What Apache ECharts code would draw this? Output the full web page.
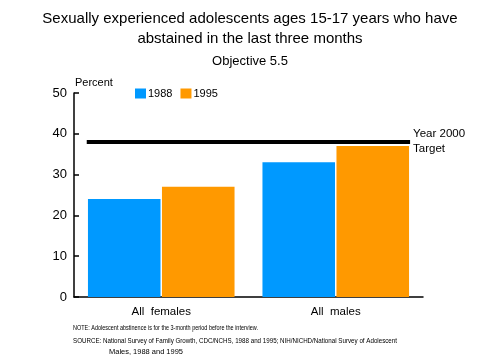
<!DOCTYPE html>
<html><head><meta charset="utf-8">
<script src="https://cdn.jsdelivr.net/npm/echarts@6/dist/echarts.min.js"></script>
<style>html,body{margin:0;padding:0;background:#fff}#c{width:500px;height:364px}</style>
</head><body><div id="c"></div>
<script>
const categories = ['All  females', 'All  males'];
const values1988 = [24, 33];
const values1995 = [27, 37];
const targetValue = 38;
const yTicks = [0, 10, 20, 30, 40, 50];

const F = 'Liberation Sans, Arial, Helvetica, sans-serif';
const noteFont = '7.5px "Liberation Sans", Arial, sans-serif';
const ctx = document.createElement('canvas').getContext('2d');
ctx.font = noteFont;
function noteText(text, x, y, targetW) {
  const w = ctx.measureText(text).width;
  return {type: 'text', x: x, y: y, scaleX: targetW / w, originX: 0, silent: true,
    style: {text: text, font: noteFont, fill: '#000', textVerticalAlign: 'middle', verticalAlign: 'middle'}};
}

const chart = echarts.init(document.getElementById('c'));
chart.setOption({
  animation: false,
  backgroundColor: '#fff',
  title: [
    {text: 'Sexually experienced adolescents ages 15-17 years who have\nabstained in the last three months', left: 'center', top: 4,
     textStyle: {fontFamily: F, fontSize: 15, fontWeight: 'normal', color: '#000', lineHeight: 20}},
    {text: 'Objective 5.5', left: 'center', top: 50,
     textStyle: {fontFamily: F, fontSize: 13, fontWeight: 'normal', color: '#000'}}
  ],
  graphic: [
    noteText('NOTE: Adolescent abstinence is for the 3-month period before the interview.', 73, 327.5, 185),
    noteText('SOURCE: National Survey of Family Growth, CDC/NCHS, 1988 and 1995; NIH/NICHD/National Survey of Adolescent', 73, 340.5, 324),
    noteText('Males, 1988 and 1995', 109, 351.5, 74)
  ],
  legend: {
    data: ['1988', '1995'], left: 130, top: 83, itemWidth: 11, itemHeight: 10, itemGap: 8,
    icon: 'rect',
    textStyle: {fontFamily: F, fontSize: 11, color: '#000', padding: [0,0,0,-3]}
  },
  grid: {left: 74, right: 77, top: 93, bottom: 67},
  xAxis: [
    {type: 'category', data: categories,
     axisLine: {lineStyle: {color: '#000', width: 1.5}}, axisTick: {show: false},
     axisLabel: {fontFamily: F, fontSize: 11.5, color: '#000', margin: 9}},
    {type: 'value', min: 0, max: 2, show: false}
  ],
  yAxis: {
    type: 'value', min: 0, max: 50, interval: 10, name: 'Percent',
    nameLocation: 'end', nameGap: 5,
    nameTextStyle: {fontFamily: F, fontSize: 11, color: '#000', align: 'left', padding: [0,0,0,1]},
    axisLine: {show: true, lineStyle: {color: '#000', width: 1.5}},
    axisTick: {show: true, inside: true, length: 5, lineStyle: {color: '#000', width: 1.5}},
    splitLine: {show: false},
    axisLabel: {fontFamily: F, fontSize: 13, color: '#000', margin: 7,
      formatter: v => yTicks.includes(v) ? String(v) : ''}
  },
  series: [
    {name: '1988', type: 'bar', data: values1988, barCategoryGap: '16%', barGap: '2%',
     itemStyle: {color: '#0099ff'}},
    {name: '1995', type: 'bar', data: values1995,
     itemStyle: {color: '#ff9900'}},
    {name: 'target', type: 'line', xAxisIndex: 1, symbol: 'none',
     data: [[0.073, targetValue], [1.926, targetValue]],
     lineStyle: {color: '#000', width: 4}, silent: true,
     endLabel: {show: true, formatter: 'Year 2000\nTarget', distance: 3,
       fontFamily: F, fontSize: 11.5, color: '#000', lineHeight: 14.5, align: 'left', verticalAlign: 'top', offset: [0, -15]}}
  ]
});
</script></body></html>
